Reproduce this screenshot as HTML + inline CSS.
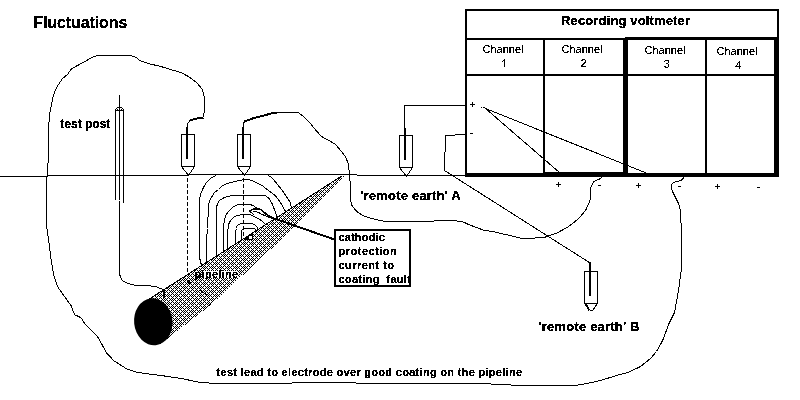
<!DOCTYPE html>
<html><head><meta charset="utf-8"><style>
html,body{margin:0;padding:0;background:#fff;}
body{width:800px;height:400px;overflow:hidden;position:relative;}
svg{position:absolute;left:0;top:0;}
text{font-family:"Liberation Sans",sans-serif;fill:#000;}
.t{filter:url(#bin);}
</style></head><body>
<svg width="800" height="400" viewBox="0 0 800 400">
<defs><filter id="bin" filterUnits="userSpaceOnUse" x="0" y="0" width="800" height="400" color-interpolation-filters="sRGB"><feComponentTransfer><feFuncA type="discrete" tableValues="0 0 0 1 1 1 1 1 1 1"/></feComponentTransfer></filter>
<filter id="binr" filterUnits="userSpaceOnUse" x="0" y="0" width="800" height="400" color-interpolation-filters="sRGB"><feComponentTransfer><feFuncA type="discrete" tableValues="0 0 0 0 1 1 1 1 1 1"/></feComponentTransfer></filter>
<pattern id="hatch" width="8" height="8" patternUnits="userSpaceOnUse">
<rect width="8" height="8" fill="#fff"/><rect x="0" y="5" width="1" height="1" fill="#000"/><rect x="4" y="5" width="1" height="1" fill="#000"/><rect x="1" y="6" width="1" height="1" fill="#000"/><rect x="3" y="6" width="1" height="1" fill="#000"/><rect x="5" y="6" width="1" height="1" fill="#000"/><rect x="7" y="6" width="1" height="1" fill="#000"/><rect x="0" y="7" width="1" height="1" fill="#000"/><rect x="2" y="7" width="1" height="1" fill="#000"/><rect x="6" y="7" width="1" height="1" fill="#000"/><rect x="1" y="0" width="1" height="1" fill="#000"/><rect x="3" y="0" width="1" height="1" fill="#000"/><rect x="5" y="0" width="1" height="1" fill="#000"/><rect x="7" y="0" width="1" height="1" fill="#000"/><rect x="0" y="1" width="1" height="1" fill="#000"/><rect x="4" y="1" width="1" height="1" fill="#000"/><rect x="1" y="2" width="1" height="1" fill="#000"/><rect x="3" y="2" width="1" height="1" fill="#000"/><rect x="5" y="2" width="1" height="1" fill="#000"/><rect x="7" y="2" width="1" height="1" fill="#000"/><rect x="2" y="3" width="1" height="1" fill="#000"/><rect x="4" y="3" width="1" height="1" fill="#000"/><rect x="6" y="3" width="1" height="1" fill="#000"/><rect x="1" y="4" width="1" height="1" fill="#000"/><rect x="3" y="4" width="1" height="1" fill="#000"/><rect x="5" y="4" width="1" height="1" fill="#000"/><rect x="7" y="4" width="1" height="1" fill="#000"/>
</pattern></defs>
<g shape-rendering="crispEdges">
<rect x="0" y="176" width="48" height="1" fill="#000"/>
<rect x="48" y="175" width="140" height="1" fill="#000"/>
<rect x="188" y="174" width="169" height="1" fill="#000"/>
<rect x="357" y="175" width="109" height="1" fill="#000"/>
</g>
<polygon points="148,299.5 342,175.5 344.5,176.5 283,238 210,305.5 160,344.5" fill="url(#hatch)" stroke="none" shape-rendering="crispEdges"/>
<polyline points="148.5,299.5 342.5,175.5" fill="none" stroke="#000" stroke-width="1" stroke-linejoin="round" shape-rendering="crispEdges" />
<ellipse cx="153.3" cy="321.8" rx="19.2" ry="23.5" fill="#000" transform="rotate(-6 153.3 321.8)"/>
<g shape-rendering="crispEdges">
<rect x="181.5" y="134.5" width="13" height="32" fill="#fff" stroke="#000" stroke-width="1"/>
<rect x="186" y="127" width="2" height="32" fill="#000"/>
</g>
<polyline points="181.5,166.5 188.5,175.5 194.5,166.5" fill="none" stroke="#000" stroke-width="1" stroke-linejoin="round" shape-rendering="crispEdges" />
<g shape-rendering="crispEdges">
<rect x="237.5" y="134.5" width="13" height="32" fill="#fff" stroke="#000" stroke-width="1"/>
<rect x="242" y="127" width="2" height="32" fill="#000"/>
</g>
<polyline points="237.5,166.5 244.5,175.5 250.5,166.5" fill="none" stroke="#000" stroke-width="1" stroke-linejoin="round" shape-rendering="crispEdges" />
<g shape-rendering="crispEdges">
<rect x="399.5" y="135.5" width="13" height="32" fill="#fff" stroke="#000" stroke-width="1"/>
<rect x="404" y="128" width="2" height="32" fill="#000"/>
</g>
<polyline points="399.5,167.5 406.5,176.5 412.5,167.5" fill="none" stroke="#000" stroke-width="1" stroke-linejoin="round" shape-rendering="crispEdges" />
<g shape-rendering="crispEdges">
<rect x="584.5" y="271.5" width="13" height="32" fill="#fff" stroke="#000" stroke-width="1"/>
<rect x="589" y="262" width="2" height="34" fill="#000"/>
</g>
<polyline points="585.5,303.5 589.5,310.5" fill="none" stroke="#000" stroke-width="2" stroke-linejoin="round" shape-rendering="crispEdges" />
<polyline points="589.5,310.5 592.5,310.5 597.5,303.5" fill="none" stroke="#000" stroke-width="1" stroke-linejoin="round" shape-rendering="crispEdges" />
<polyline points="47.5,176.5 48.2,158.7 48.6,127.5 49.7,113.5 51.8,103.5 53.3,95.5 56.5,87.5 62.5,78.5 67.5,74.5 71.5,68.7 77.5,65.5 85.5,61.2 91.5,57.5 97.7,55.5 130.5,55.5 136.5,57.5 139.5,60.5 148.5,63.6 160.5,66.4 170.5,69.5 180.5,72.4 188.5,76.5 196.5,82.5 202.5,89.5 204.5,98.5 204.5,112.5 203.5,113.5 203.5,116.5" fill="none" stroke="#000" stroke-width="1" stroke-linejoin="round" shape-rendering="crispEdges" />
<polyline points="203.5,117.5 196.5,118.6 189.5,120.6" fill="none" stroke="#000" stroke-width="2" stroke-linejoin="round" shape-rendering="crispEdges" />
<polyline points="189.5,121.5 187.5,123.5 187.5,127.5" fill="none" stroke="#000" stroke-width="1" stroke-linejoin="round" shape-rendering="crispEdges" />
<polyline points="243.5,127.5 243.5,123.5 244.5,121.5 252.5,118.5 263.8,115.5 271.3,113.5 276.5,112.5 298.4,112.5 303.5,116.5 308.8,121.5 314.4,128.5 321.5,136.5 327.5,139.7 335.5,144.4 340.6,150.5 345.3,156.6 348.2,163.2 349.1,170.7 349.4,175.5 350.5,185.5 350.6,200.5 351.9,205.5 354.4,208.75 357.5,211.9 362.5,215.5 370.5,218.1 380.5,220.6 387.5,221.6 412.5,221.6 433.5,221.5 434.5,220.5 456.5,220.5 457.5,221.5 462.5,221.6 468.5,224.5 476.5,227.5 484.5,230.5 492.5,231.5 505.5,234.5 522.5,238.5 543.5,237.7 557.5,232.75 568.5,226.6 578.5,218.75 585.5,210.5 589.9,201.25 590.6,192.5 590.6,188.4 591.6,185.5 593.5,182.2 595.5,180.3 598.5,179.5 600.2,178.6 601.2,177.5 601.5,176.2" fill="none" stroke="#000" stroke-width="1" stroke-linejoin="round" shape-rendering="crispEdges" />
<polyline points="244.5,121.5 252.5,118.5 263.8,115.5 271.3,113.5 276.5,112.5" fill="none" stroke="#000" stroke-width="2" stroke-linejoin="round" shape-rendering="crispEdges" />
<polyline points="46.5,176.5 46.75,227.5 48.75,240.5 51.25,260.5 53.75,275.5 57.5,286.5 63.75,295.5 71.1,305.6 74.5,314.6 79.5,316.9 82.4,319.5 84.6,323.6 97.5,336.5 100.4,341.6 106.5,352.9 113.9,360.75 126.25,368.6 137.5,372.5 160.5,375.4 182.5,378.75 200.5,382.5 216.5,383.5 291.5,383.5 292.5,382.5 330.5,382.5 380.5,383.5 480.5,383.5 520.5,385.5 574.5,385.5 586.5,383.6 600.5,380.5 616.5,375.5 628.5,372.4 640.5,366.5 650.5,358.5 656.5,351.5 660.5,344.5 663.5,338.5 668.5,324.5 670.5,320.5 674.5,312.5 678.5,290.5 681.65,267.5 681.65,245.5 680.75,213.5 679.4,205.5 678.5,203.5 673.5,193.5 671.6,189.5 671.6,184.5 673.5,182.5 680.5,180.6 682.4,179.5 684.5,176.5" fill="none" stroke="#000" stroke-width="1" stroke-linejoin="round" shape-rendering="crispEdges" />
<polyline points="119.5,200.5 119.5,273.5 120.5,277.5 122.5,280.5 125.5,282.5 128.75,283.75 135.5,285.5 145.5,285.5 155.5,286.5 160.5,288.5 163.5,289.5" fill="none" stroke="#000" stroke-width="1" stroke-linejoin="round" shape-rendering="crispEdges" />
<polyline points="163.5,289.5 164.5,297.5" fill="none" stroke="#000" stroke-width="2" stroke-linejoin="round" shape-rendering="crispEdges" />
<polyline points="187.5,280.5 190.5,283.5" fill="none" stroke="#000" stroke-width="1.5" stroke-linejoin="round" shape-rendering="crispEdges" />
<polyline points="200.5,290.5 202.8,292.3" fill="none" stroke="#000" stroke-width="1.5" stroke-linejoin="round" shape-rendering="crispEdges" />
<polyline points="205.5,293.5 206.8,294.5" fill="none" stroke="#000" stroke-width="1.2" stroke-linejoin="round" shape-rendering="crispEdges" />
<polyline points="207.5,306.5 211.5,303.5" fill="none" stroke="#000" stroke-width="1.2" stroke-linejoin="round" shape-rendering="crispEdges" />
<g shape-rendering="crispEdges"><rect x="404" y="105" width="61" height="1" fill="#000"/><rect x="404" y="105" width="1" height="23" fill="#000"/></g>
<polyline points="465.5,134.5 445.5,135.5 444.5,170.5 589.5,262.6" fill="none" stroke="#000" stroke-width="1" stroke-linejoin="round" shape-rendering="crispEdges" />
<g shape-rendering="crispEdges"><rect x="481" y="107" width="1" height="1" fill="#000"/><rect x="483" y="107" width="2" height="1" fill="#000"/></g>
<polyline points="485.5,108.5 559.5,172.5" fill="none" stroke="#000" stroke-width="1" stroke-linejoin="round" shape-rendering="crispEdges" />
<polyline points="485.5,108.5 647.5,173.5" fill="none" stroke="#000" stroke-width="1" stroke-linejoin="round" shape-rendering="crispEdges" />
<g shape-rendering="crispEdges">
<rect x="119" y="95" width="1" height="105" fill="#000"/>
<rect x="115" y="109" width="1" height="91" fill="#000"/>
<rect x="123" y="109" width="1" height="94" fill="#000"/>
</g>
<g shape-rendering="crispEdges"><rect x="117" y="107" width="5" height="1" fill="#000"/><rect x="116" y="108" width="1" height="1" fill="#000"/><rect x="122" y="108" width="1" height="1" fill="#000"/><rect x="115" y="109" width="1" height="1" fill="#000"/><rect x="117" y="109" width="1" height="1" fill="#000"/><rect x="121" y="109" width="1" height="1" fill="#000"/><rect x="123" y="109" width="1" height="1" fill="#000"/><rect x="115" y="110" width="9" height="1" fill="#000"/></g>
<g shape-rendering="crispEdges">
<rect x="465" y="9" width="314" height="2" fill="#000"/>
<rect x="465" y="9" width="2" height="168" fill="#000"/>
<rect x="777" y="9" width="2" height="168" fill="#000"/>
<rect x="465" y="38" width="160" height="2" fill="#000"/>
<rect x="625" y="37" width="154" height="3" fill="#000"/>
<rect x="465" y="74" width="314" height="2" fill="#000"/>
<rect x="465" y="173" width="314" height="4" fill="#000"/>
<rect x="543" y="172" width="82" height="1" fill="#000"/>
<rect x="543" y="38" width="2" height="137" fill="#000"/>
<rect x="623" y="38" width="2" height="139" fill="#000"/>
<rect x="625" y="37" width="3" height="140" fill="#000"/>
<rect x="705" y="38" width="2" height="137" fill="#000"/>
<rect x="774" y="37" width="5" height="140" fill="#000"/>
</g>
<line x1="187.5" y1="178" x2="187.5" y2="272" stroke="#000" stroke-width="1" stroke-dasharray="4 2" shape-rendering="crispEdges"/>
<line x1="243.5" y1="178" x2="243.5" y2="236" stroke="#000" stroke-width="1" stroke-dasharray="4 2" shape-rendering="crispEdges"/>
<polyline points="215.6,175.5 210.5,178.5 206.5,182.5 203.5,187.5 200.6,193.75 199.5,200.5 199.5,257.5 201.5,265.5" fill="none" stroke="#000" stroke-width="1" stroke-linejoin="round" shape-rendering="crispEdges" />
<polyline points="267.5,174.75 272.5,178.25 277.5,184.5 282.5,190.75 286.9,197.5 290.5,202.5 291.25,207.5" fill="none" stroke="#000" stroke-width="1" stroke-linejoin="round" shape-rendering="crispEdges" />
<polyline points="206.5,262.5 206.5,240.5 207.5,228.5 208.5,205.5 209.5,200.5 214.5,192.5 218.5,189.5 221.5,186.5 226.5,183.5 231.5,182.5 238.75,180.5 246.5,179.4 252.5,180.6 256.25,182.5 262.5,185.75 268.75,190.75 275.5,195.75 280.5,202.5 283.75,208.25 285.5,211.5" fill="none" stroke="#000" stroke-width="1" stroke-linejoin="round" shape-rendering="crispEdges" />
<polyline points="216.2,256.5 216.2,207.5 219.2,200.5 224.5,197.5 232.5,195.2 244.5,195.2 252.5,195.5 265.5,195.5 268.75,198.25 271.9,203.25 274.4,209.5 276.25,214.5 276.9,217.5" fill="none" stroke="#000" stroke-width="1" stroke-linejoin="round" shape-rendering="crispEdges" />
<polyline points="223.2,251.5 223.2,240.5 223.5,226.5 224.5,220.5 225.5,215.5 228.5,211.5 232.5,207.5 237.5,204.5 242.5,204.5 250.2,204.5 253.2,205.6 255.6,207.4 257.5,208.6" fill="none" stroke="#000" stroke-width="1" stroke-linejoin="round" shape-rendering="crispEdges" />
<polyline points="227.8,248.5 227.8,230.5 228.5,224.5 230.5,220.5 233.5,217.5 236.5,215.5 244.5,214.5 250.2,214.5 252.6,215.8 255.5,217.5 258.5,218.5 261.6,220.8 264.6,223.6" fill="none" stroke="#000" stroke-width="1" stroke-linejoin="round" shape-rendering="crispEdges" />
<polyline points="235.8,243.5 235.8,230.5 236.5,228.5 237.2,225.5 241.5,223.2 250.5,223.2 254.5,224.7 257.5,227.7 258.5,229.5" fill="none" stroke="#000" stroke-width="1" stroke-linejoin="round" shape-rendering="crispEdges" />
<polyline points="241.5,239.5 241.5,230.5 242.5,229.5 243.5,228.5 254.5,228.5 255.5,229.5 256.5,231.5" fill="none" stroke="#000" stroke-width="1" stroke-linejoin="round" shape-rendering="crispEdges" />
<polyline points="334.5,239.5 268.5,216.5" fill="none" stroke="#000" stroke-width="2" stroke-linejoin="round" shape-rendering="crispEdges" />
<polyline points="249.3,211.5 253.5,208.8 259.5,208.8 263.5,211.6 266.5,214.5 269.5,216.2" fill="none" stroke="#000" stroke-width="1.5" stroke-linejoin="round" shape-rendering="crispEdges" />
<polyline points="253.5,211.2 258.5,212.4 261.6,214.2 266.5,216.2 269.5,217.2" fill="none" stroke="#000" stroke-width="1" stroke-linejoin="round" shape-rendering="crispEdges" />
<polyline points="249.3,211.5 252.6,213.4 254.5,215.5" fill="none" stroke="#000" stroke-width="1.2" stroke-linejoin="round" shape-rendering="crispEdges" />
<polygon points="244,239.5 251,233.5 253.5,234 253,240 246,240.5" fill="#000" shape-rendering="crispEdges"/>
<rect x="249" y="236" width="3" height="3" fill="#fff" shape-rendering="crispEdges"/>
<g shape-rendering="crispEdges">
<rect x="335" y="230" width="75" height="56" fill="#fff" stroke="#000" stroke-width="2"/>
</g>
<rect x="204" y="271" width="34" height="7" fill="#fff" shape-rendering="crispEdges"/>
<g filter="url(#bin)">
<text x="33.3" y="28" font-size="16" font-weight="bold" letter-spacing="-0.1">Fluctuations</text>
<text x="561" y="25" font-size="13" font-weight="bold" textLength="129">Recording voltmeter</text>
<text x="60.3" y="128" font-size="12" font-weight="bold" >test post</text>
<text x="360.3" y="199.5" font-size="13" font-weight="bold" letter-spacing="0.2">'remote earth' A</text>
<text x="538.5" y="331" font-size="13" font-weight="bold" letter-spacing="0.2">'remote earth' B</text>
<text x="194.5" y="278" font-size="11" font-weight="bold" letter-spacing="0.3">pipeline</text>
<text x="338.5" y="240.5" font-size="11" font-weight="bold" letter-spacing="0.15">cathodic</text>
<text x="338.5" y="254.5" font-size="11" font-weight="bold" letter-spacing="0.5">protection</text>
<text x="338.5" y="268.5" font-size="11" font-weight="bold" letter-spacing="0.45">current to</text>
<text x="338.5" y="282.5" font-size="11" font-weight="bold" letter-spacing="0.3">coating&#160; fault</text>
<text x="216.5" y="375.5" font-size="11" font-weight="bold" letter-spacing="0.3">test lead to electrode over good coating on the pipeline</text>
</g><g filter="url(#binr)">
<text x="503" y="53" font-size="11" text-anchor="middle">Channel</text>
<text x="582" y="53" font-size="11" text-anchor="middle">Channel</text>
<text x="665" y="54" font-size="11" text-anchor="middle">Channel</text>
<text x="737" y="55" font-size="11" text-anchor="middle">Channel</text>
<text x="583.5" y="67" font-size="11" text-anchor="middle">2</text>
<text x="666.7" y="67.5" font-size="11" text-anchor="middle">3</text>
<text x="738.4" y="69" font-size="11" text-anchor="middle">4</text>
</g>
<g shape-rendering="crispEdges"><rect x="504" y="59" width="1" height="8" fill="#000"/><rect x="503" y="60" width="1" height="1" fill="#000"/><rect x="502" y="61" width="1" height="1" fill="#000"/></g>
<g shape-rendering="crispEdges"><rect x="470" y="104" width="5" height="1" fill="#000"/><rect x="472" y="102" width="1" height="5" fill="#000"/></g>
<g shape-rendering="crispEdges"><rect x="470" y="133" width="3" height="1" fill="#000"/></g>
<g shape-rendering="crispEdges"><rect x="556" y="184" width="5" height="1" fill="#000"/><rect x="558" y="182" width="1" height="5" fill="#000"/></g>
<g shape-rendering="crispEdges"><rect x="598" y="185" width="3" height="1" fill="#000"/></g>
<g shape-rendering="crispEdges"><rect x="636" y="185" width="5" height="1" fill="#000"/><rect x="638" y="183" width="1" height="5" fill="#000"/></g>
<g shape-rendering="crispEdges"><rect x="678" y="186" width="3" height="1" fill="#000"/></g>
<g shape-rendering="crispEdges"><rect x="715" y="186" width="5" height="1" fill="#000"/><rect x="717" y="184" width="1" height="5" fill="#000"/></g>
<g shape-rendering="crispEdges"><rect x="757" y="187" width="3" height="1" fill="#000"/></g>
</svg>
</body></html>
